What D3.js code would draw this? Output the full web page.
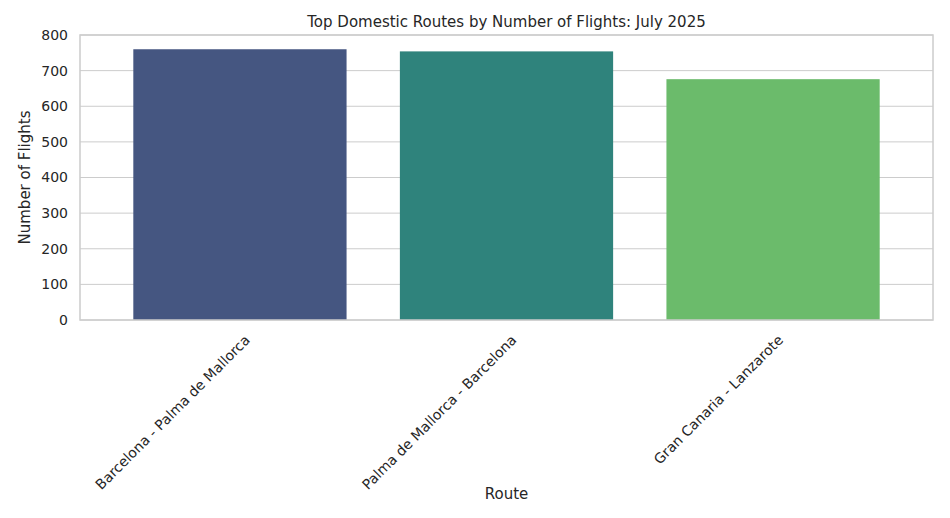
<!DOCTYPE html>
<html><head><meta charset="utf-8">
<script src="https://cdn.jsdelivr.net/npm/d3@7"></script>
<style>body{margin:0;background:#fff;font-family:"DejaVu Sans",sans-serif}</style>
</head><body><svg width="950" height="518"></svg>
<script>
const routes = ["Barcelona - Palma de Mallorca", "Palma de Mallorca - Barcelona", "Gran Canaria - Lanzarote"];
const flights = [760, 754, 676];
const colors = ["#455681", "#2f837c", "#6bbb6b"];
const yTicks = [0, 100, 200, 300, 400, 500, 600, 700, 800];

const svg = d3.select("svg");
const m = {l: 80, r: 17, t: 35, b: 198};
const W = 950, H = 518;

const x = d3.scaleBand().domain(routes).range([m.l, W - m.r]).padding(0.2);
const y = d3.scaleLinear().domain([0, 800]).range([H - m.b, m.t]);

// grid
svg.append("g").selectAll("line").data(yTicks).join("line")
  .attr("x1", m.l).attr("x2", W - m.r)
  .attr("y1", d => y(d)).attr("y2", d => y(d))
  .attr("stroke", "#cccccc").attr("stroke-width", 1);

svg.append("g").selectAll("rect").data(routes).join("rect")
  .attr("x", d => x(d)).attr("width", x.bandwidth())
  .attr("y", (d, i) => y(flights[i])).attr("height", (d, i) => y(0) - y(flights[i]))
  .attr("fill", (d, i) => colors[i]);

// frame
svg.append("rect").attr("x", m.l).attr("y", m.t)
  .attr("width", W - m.r - m.l).attr("height", H - m.b - m.t)
  .attr("fill", "none").attr("stroke", "#cccccc").attr("stroke-width", 1.5);

svg.append("g").selectAll("text").data(yTicks).join("text")
  .attr("x", m.l - 12).attr("y", d => y(d)).attr("dy", "0.35em")
  .attr("text-anchor", "end").attr("font-size", 14).attr("fill", "#262626")
  .text(d => d);

svg.append("g").selectAll("text").data(routes).join("text")
  .attr("transform", d => `translate(${x(d) + x.bandwidth() / 2 + 4},${y(0) + 14}) rotate(-45)`)
  .attr("text-anchor", "end").attr("dy", "0.7em").attr("font-size", 14).attr("fill", "#262626")
  .text(d => d);

svg.append("text").attr("x", (m.l + W - m.r) / 2).attr("y", 27)
  .attr("text-anchor", "middle").attr("font-size", 15).attr("fill", "#262626")
  .text("Top Domestic Routes by Number of Flights: July 2025");

svg.append("text").attr("x", (m.l + W - m.r) / 2).attr("y", 499)
  .attr("text-anchor", "middle").attr("font-size", 15).attr("fill", "#262626")
  .text("Route");

svg.append("text").attr("transform", `translate(30,${(m.t + H - m.b) / 2}) rotate(-90)`)
  .attr("text-anchor", "middle").attr("font-size", 15).attr("fill", "#262626")
  .text("Number of Flights");
</script></body></html>
